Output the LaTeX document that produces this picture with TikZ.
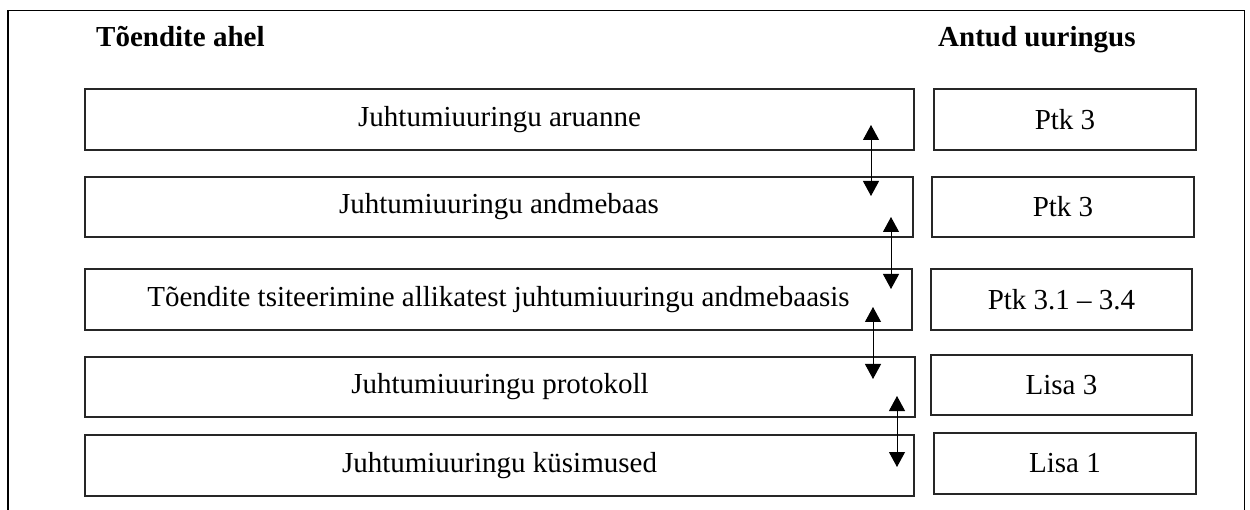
\documentclass[tikz,border=0pt]{standalone}
\usepackage{fontspec}
\setmainfont{Liberation Serif}
\usetikzlibrary{arrows.meta}
\begin{document}
\begin{tikzpicture}[x=1pt,y=-1pt,
  chainbox/.style={draw=black!85,line width=1.2pt,inner sep=0pt,
    minimum width=829pt,minimum height=61pt,font=\fontsize{29}{34}\selectfont},
  refbox/.style={chainbox,minimum width=262pt},
  heading/.style={anchor=base west,inner sep=0pt,font=\fontsize{29}{34}\selectfont\bfseries},
  link/.style={line width=1pt,{Triangle[width=16pt,length=15pt]}-{Triangle[width=16pt,length=15pt]}}]
\useasboundingbox (0,0) rectangle (1250,510);
% open frame around the table
\draw[line width=1.5pt] (8,510) -- (8,10.5) -- (1244.5,10.5) -- (1244.5,510);
% column headings
\node[heading] (hl) at (96,47) {Tõendite ahel};
\node[heading] (hr) at (938,47) {Antud uuringus};
% chain of evidence
\node[chainbox] (l1) at (499.5,119.5) {Juhtumiuuringu aruanne};
\node[chainbox,minimum width=828pt,minimum height=60pt] (l2) at (499,207) {Juhtumiuuringu andmebaas};
\node[chainbox,minimum width=827pt] (l3) at (498.5,299.5) {Tõendite tsiteerimine allikatest juhtumiuuringu andmebaasis};
\node[chainbox,minimum width=830pt,minimum height=60pt] (l4) at (500,387) {Juhtumiuuringu protokoll};
\node[chainbox] (l5) at (499.5,465.5) {Juhtumiuuringu küsimused};
% where each item appears
\node[refbox] (r1) at (1065,119.5) {Ptk 3};
\node[refbox,minimum height=60pt] (r2) at (1063,207) {Ptk 3};
\node[refbox,minimum width=261pt] (r3) at (1061.5,299.5) {Ptk 3.1 – 3.4};
\node[refbox,minimum width=261pt,minimum height=60pt] (r4) at (1061.5,385) {Lisa 3};
\node[refbox] (r5) at (1065,463.5) {Lisa 1};
% two-way links between neighbouring levels
\coordinate (a1t) at (871,125); \coordinate (a1b) at (871,196);
\coordinate (a2t) at (891,217); \coordinate (a2b) at (891,289);
\coordinate (a3t) at (873,307); \coordinate (a3b) at (873,379);
\coordinate (a4t) at (897,396); \coordinate (a4b) at (897,467);
\draw[link] (a1t) -- (a1b);
\draw[link] (a2t) -- (a2b);
\draw[link] (a3t) -- (a3b);
\draw[link] (a4t) -- (a4b);
\end{tikzpicture}
\end{document}
